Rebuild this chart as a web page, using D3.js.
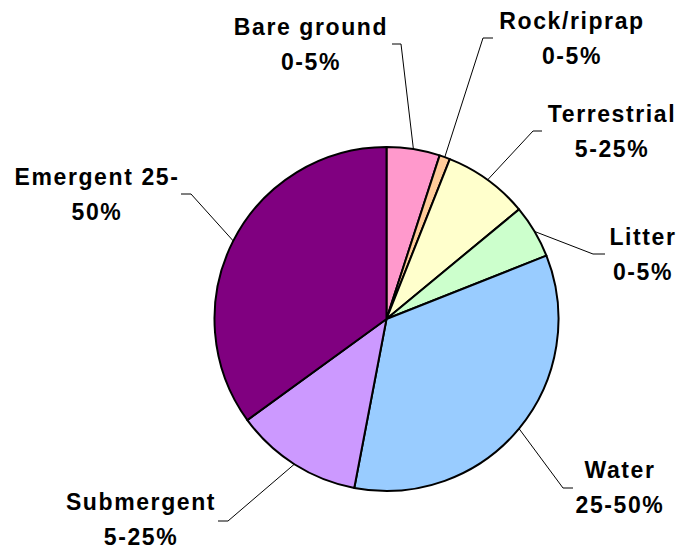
<!DOCTYPE html>
<html>
<head>
<meta charset="utf-8">
<title>Cover types</title>
<script src="https://cdn.jsdelivr.net/npm/d3@7"></script>
<style>
  html, body { margin: 0; background: #fff; }
  .lbl { font: bold 23px "Liberation Sans", Arial, sans-serif; letter-spacing: 1.6px; fill: #000; }
  .leader { fill: none; stroke: #000; stroke-width: 1; }
</style>
</head>
<body>
<svg width="680" height="552"></svg>
<script>
// cover categories, clockwise from 12 o'clock
var categories = ["Bare ground", "Rock/riprap", "Terrestrial", "Litter", "Water", "Submergent", "Emergent"];
var values = [5, 1, 8, 5, 34, 12, 35];
var labelLines = [
  ["Bare ground", "0-5%"],
  ["Rock/riprap", "0-5%"],
  ["Terrestrial", "5-25%"],
  ["Litter", "0-5%"],
  ["Water", "25-50%"],
  ["Submergent", "5-25%"],
  ["Emergent 25-", "50%"]
];
var colors = ["#FF99CC", "#FFCC99", "#FFFFCC", "#CCFFCC", "#99CCFF", "#CC99FF", "#800080"];

var svg = d3.select("svg"),
    cx = 386.5, cy = 319, radius = 172;

// where each label block sits: text centre x, first baseline y, leader elbow + end
var layout = [
  {tx: 310, ty: 35,  elbow: [401, 44],  end: [392, 44]},
  {tx: 571, ty: 29,  elbow: [483, 38],  end: [493, 38]},
  {tx: 611, ty: 122, elbow: [533, 131], end: [542, 131]},
  {tx: 642, ty: 245, elbow: [593, 254], end: [605, 254]},
  {tx: 619, ty: 478, elbow: [563, 488], end: [573, 488]},
  {tx: 140, ty: 510, elbow: [228, 521], end: [218, 521]},
  {tx: 96,  ty: 185, elbow: [191, 194], end: [181, 194]}
];

var pie = d3.pie().sort(null).value(function(d) { return d; });
var arc = d3.arc().innerRadius(0).outerRadius(radius);
var arcs = pie(values);

var g = svg.append("g").attr("transform", "translate(" + cx + "," + cy + ")");

g.selectAll("path.slice")
  .data(arcs)
  .enter().append("path")
    .attr("class", "slice")
    .attr("d", arc)
    .attr("fill", function(d, i) { return colors[i]; })
    .attr("stroke", "#000")
    .attr("stroke-width", 2)
    .attr("stroke-linejoin", "round");

// leader lines from the slice edge (mid angle) to the label
var line = d3.line();
svg.selectAll("path.leader")
  .data(arcs)
  .enter().append("path")
    .attr("class", "leader")
    .attr("d", function(d, i) {
      var a = (d.startAngle + d.endAngle) / 2;
      var p = [cx + radius * Math.sin(a), cy - radius * Math.cos(a)];
      return line([p, layout[i].elbow, layout[i].end]);
    });

var labels = svg.selectAll("text.lbl")
  .data(categories)
  .enter().append("text")
    .attr("class", "lbl")
    .attr("text-anchor", "middle")
    .attr("x", function(d, i) { return layout[i].tx; })
    .attr("y", function(d, i) { return layout[i].ty; });

labels.each(function(d, i) {
  var t = d3.select(this);
  labelLines[i].forEach(function(s, k) {
    t.append("tspan")
      .attr("x", layout[i].tx + 1)
      .attr("dy", k === 0 ? 0 : 35)
      .text(s);
  });
});
</script>
</body>
</html>
